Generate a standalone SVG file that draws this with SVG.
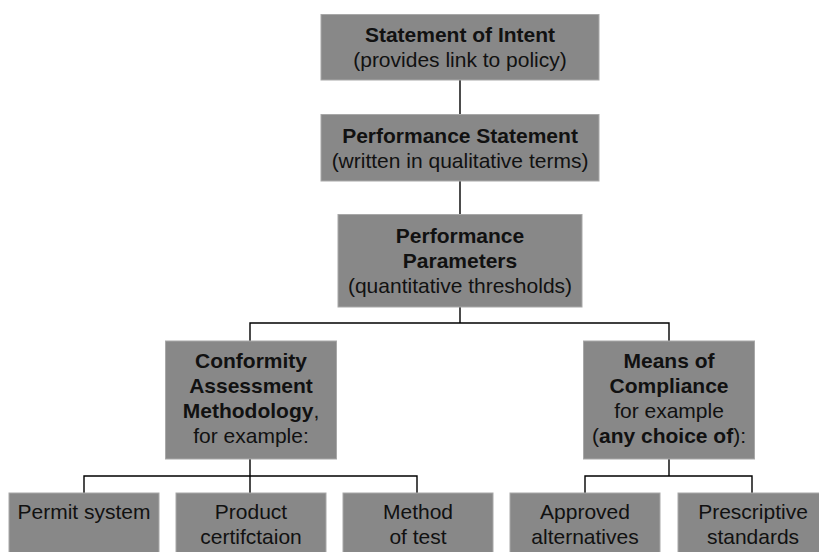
<svg xmlns="http://www.w3.org/2000/svg" width="819" height="552" viewBox="0 0 819 552">
<style>
.box{fill:#888888;stroke:#a8a8a8;stroke-width:1}
text{font-family:"Liberation Sans",Arial,sans-serif;font-size:21px;fill:#111;text-anchor:middle}
.b{font-weight:bold}
.conn{fill:none;stroke:#000;stroke-width:1.4}
</style>
<rect width="819" height="552" fill="#fff"/>
<g id="connectors" class="conn">
<path d="M460 80V114"/>
<path d="M460 181V214"/>
<path d="M460 307V323M250 341V323H669V341"/>
<path d="M250 459V476M84 493V476H417V493M250 476V493"/>
<path d="M669 459V476M585 493V476H752V493"/>
</g>
<g id="n1"><rect class="box" x="321" y="14.5" width="278" height="65.5"/>
<text x="460" y="42" class="b">Statement of Intent</text><text x="460" y="67">(provides link to policy)</text></g>
<g id="n2"><rect class="box" x="321" y="114.5" width="278" height="66.5"/>
<text x="460" y="143" class="b">Performance Statement</text><text x="460" y="168">(written in qualitative terms)</text></g>
<g id="n3"><rect class="box" x="338" y="214.5" width="244" height="92.5"/>
<text x="460" y="243" class="b">Performance</text><text x="460" y="268" class="b">Parameters</text><text x="460" y="293">(quantitative thresholds)</text></g>
<g id="n4"><rect class="box" x="165.5" y="341" width="171" height="118"/>
<text x="251" y="368" class="b">Conformity</text><text x="251" y="393" class="b">Assessment</text><text x="251" y="418"><tspan class="b">Methodology</tspan>,</text><text x="251" y="443">for example:</text></g>
<g id="n5"><rect class="box" x="583.5" y="341" width="171" height="118"/>
<text x="669" y="368" class="b">Means of</text><text x="669" y="393" class="b">Compliance</text><text x="669" y="418">for example</text><text x="669" y="443">(<tspan class="b">any choice of</tspan>):</text></g>
<g id="n6"><rect class="box" x="9" y="493" width="150" height="70"/>
<text x="84" y="519">Permit system</text></g>
<g id="n7"><rect class="box" x="176" y="493" width="150" height="70"/>
<text x="251" y="519">Product</text><text x="251" y="544">certifctaion</text></g>
<g id="n8"><rect class="box" x="343" y="493" width="150" height="70"/>
<text x="418" y="519">Method</text><text x="418" y="544">of test</text></g>
<g id="n9"><rect class="box" x="510" y="493" width="150" height="70"/>
<text x="585" y="519">Approved</text><text x="585" y="544">alternatives</text></g>
<g id="n10"><rect class="box" x="678" y="493" width="150" height="70"/>
<text x="753" y="519">Prescriptive</text><text x="753" y="544">standards</text></g>
</svg>
